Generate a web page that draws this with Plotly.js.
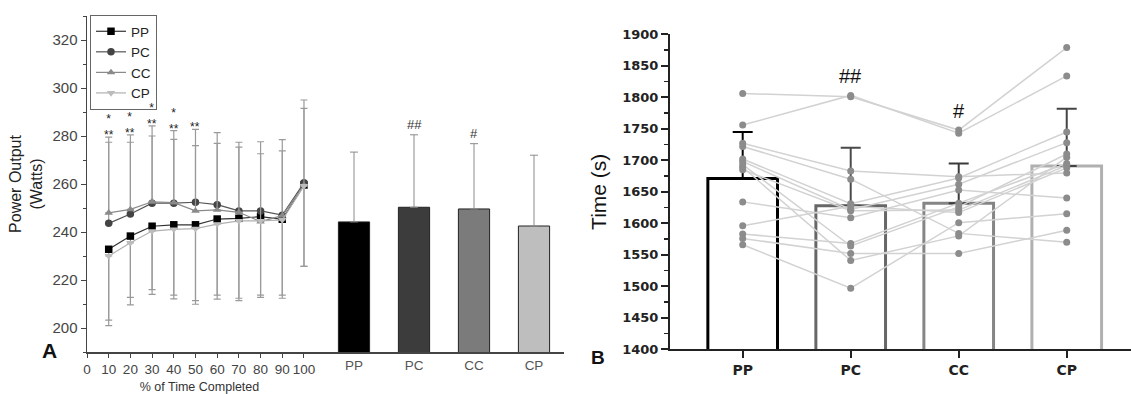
<!DOCTYPE html>
<html>
<head>
<meta charset="utf-8">
<script src="https://cdn.plot.ly/plotly-3.0.1.min.js"></script>
<style>html,body{margin:0;padding:0;background:#fff;}#chart{width:1131px;height:394px;}</style>
</head>
<body>
<div id="chart"></div>
<script>
// ---------- Panel A: power output over % of time ----------
const pctCompleted = [10, 20, 30, 40, 50, 60, 70, 80, 90, 100];
const pctTicks = [0, 10, 20, 30, 40, 50, 60, 70, 80, 90, 100];
const ppPower = [232.8, 238.3, 242.4, 243.0, 243.0, 245.4, 245.7, 246.4, 245.3, 259.6];
const pcPower = [243.6, 247.5, 252.0, 252.0, 252.4, 251.4, 248.8, 248.8, 247.0, 260.5];
const ccPower = [248.0, 249.4, 252.6, 252.2, 248.8, 249.2, 248.2, 244.3, 246.8, 259.5];
const cpPower = [230.0, 235.5, 240.4, 241.1, 241.4, 243.3, 244.6, 244.6, 245.0, 259.2];
const ppPowerSD = [29.5, 25.5, 26.4, 29.3, 31.6, 31.7, 33.3, 32.7, 31.6, 33.9];
const pcPowerSD = [35.9, 33.0, 32.2, 30.2, 30.4, 30.0, 28.6, 28.8, 31.5, 34.5];
const ccPowerSD = [29.4, 28.0, 27.4, 26.4, 27.2, 27.7, 27.2, 28.3, 27.0, 32.0];
const cpPowerSD = [29.0, 25.9, 26.4, 29.0, 31.5, 31.3, 33.2, 31.8, 32.6, 33.5];
const sigMarks = ['*<br>**', '*<br>**', '*<br>**', '*<br>**', '**', '', '', '', '', ''];

// Panel A bars: mean power per condition
const conditions = ['PP', 'PC', 'CC', 'CP'];
const powerMeans = [244.2, 250.3, 249.6, 242.5];
const powerMeanSD = [29.1, 30.2, 27.2, 29.5];
const powerSig = ['', '##', '#', ''];

// ---------- Panel B: time trial (s) ----------
const timeMeans = [1671, 1628, 1632, 1691];
const timeSD = [74, 92, 63, 91];
const timeSig = ['', '##', '#', ''];
// individual participants (same order in each array)
const ppTime = [1806, 1756, 1727, 1722, 1702, 1698, 1693, 1689, 1685, 1634, 1596, 1583, 1576, 1566];
const pcTime = [1801, 1803, 1683, 1670, 1631, 1622, 1564, 1541, 1620, 1609, 1627, 1568, 1552, 1497];
const ccTime = [1748, 1743, 1674, 1584, 1672, 1662, 1626, 1580, 1621, 1653, 1617, 1632, 1552, 1601];
const cpTime = [1879, 1834, 1680, 1570, 1745, 1728, 1710, 1705, 1692, 1640, 1688, 1695, 1589, 1615];

// ---------- styles ----------
const W = 1131, H = 394;
const px = v => v / W;
const py = v => (H - v) / H;

const seriesStyle = {
  PP: {color: '#000000', line: '#333333', symbol: 'square'},
  PC: {color: '#444444', line: '#555555', symbol: 'circle'},
  CC: {color: '#8a8a8a', line: '#8a8a8a', symbol: 'triangle-up'},
  CP: {color: '#bcbcbc', line: '#b0b0b0', symbol: 'triangle-down'}
};
const powerSeries = {PP: [ppPower, ppPowerSD, 'down'], PC: [pcPower, pcPowerSD, 'up'], CC: [ccPower, ccPowerSD, 'up'], CP: [cpPower, cpPowerSD, 'down']};
const zeros = n => Array(n).fill(0);

const data = [];

// left bars
data.push({
  type: 'bar', x: conditions, y: powerMeans, xaxis: 'x2', yaxis: 'y', width: 0.52,
  marker: {color: ['#000000', '#3c3c3c', '#7b7b7b', '#bebebe'], line: {color: '#222', width: 1}},
  error_y: {type: 'data', symmetric: false, array: powerMeanSD, arrayminus: zeros(4), color: '#8a8a8a', thickness: 1, width: 4},
  showlegend: false, hoverinfo: 'skip'
});

// left line series
conditions.forEach(c => {
  const [vals, sd, dir] = powerSeries[c];
  const st = seriesStyle[c];
  data.push({
    type: 'scatter', mode: 'lines+markers', name: c, x: pctCompleted, y: vals, xaxis: 'x', yaxis: 'y',
    line: {color: st.line, width: 1.2},
    marker: {color: st.color, symbol: st.symbol, size: 7.5},
    error_y: {type: 'data', symmetric: false,
      array: dir === 'up' ? sd : zeros(sd.length),
      arrayminus: dir === 'down' ? sd : zeros(sd.length),
      color: '#9a9a9a', thickness: 1.2, width: 3.5}
  });
});

// right bars (outlined)
const barLine = ['#000000', '#676767', '#858585', '#b0b0b0'];
const barErr = ['#000000', '#4a4a4a', '#3a3a3a', '#444444'];
conditions.forEach((c, i) => {
  data.push({
    type: 'bar', x: [c], y: [timeMeans[i]], xaxis: 'x3', yaxis: 'y2', width: 0.645,
    marker: {color: 'rgba(255,255,255,0)', line: {color: barLine[i], width: 3}},
    error_y: {type: 'data', symmetric: false, array: [timeSD[i]], arrayminus: [0], color: barErr[i], thickness: 2, width: 10},
    showlegend: false, hoverinfo: 'skip'
  });
});

// participant lines
const partArrays = [ppTime, pcTime, ccTime, cpTime];
const lx = [], ly = [];
ppTime.forEach((_, s) => {
  conditions.forEach((c, k) => { lx.push(c); ly.push(partArrays[k][s]); });
  lx.push(null); ly.push(null);
});
data.push({type: 'scatter', mode: 'lines', x: lx, y: ly, xaxis: 'x3', yaxis: 'y2',
  line: {color: '#d2d2d2', width: 1.5}, connectgaps: false, showlegend: false, hoverinfo: 'skip'});
const mx = [], my = [];
conditions.forEach((c, k) => partArrays[k].forEach(v => { mx.push(c); my.push(v); }));
data.push({type: 'scatter', mode: 'markers', x: mx, y: my, xaxis: 'x3', yaxis: 'y2',
  marker: {color: '#8c8c8c', size: 7}, showlegend: false, hoverinfo: 'skip'});

// ---------- annotations ----------
const ann = [];
ann.push({xref: 'paper', yref: 'paper', x: px(49), y: py(350), xanchor: 'center', yanchor: 'middle', text: 'A', showarrow: false,
  font: {family: 'Arial', size: 21, color: '#111', weight: 'bold'}});
ann.push({xref: 'paper', yref: 'paper', x: px(598), y: py(357), xanchor: 'center', yanchor: 'middle', text: 'B', showarrow: false,
  font: {family: 'Arial', size: 19, color: '#111', weight: 'bold'}});
pctCompleted.forEach((p, i) => {
  const top = Math.max(pcPower[i] + pcPowerSD[i], ccPower[i] + ccPowerSD[i]);
  if (sigMarks[i]) ann.push({x: p, y: top, xref: 'x', yref: 'y', text: sigMarks[i], showarrow: false,
    xanchor: 'center', yanchor: 'bottom', yshift: -7, font: {family: 'Arial', size: 12, color: '#222'}});
});
conditions.forEach((c, i) => {
  if (powerSig[i]) ann.push({x: c, y: powerMeans[i] + powerMeanSD[i], xref: 'x2', yref: 'y', text: powerSig[i],
    showarrow: false, yanchor: 'bottom', yshift: 1, font: {family: 'Arial', size: 13, color: '#333'}});
  if (timeSig[i]) ann.push({x: c, y: Math.max(...partArrays[i]), xref: 'x3', yref: 'y2', text: timeSig[i],
    showarrow: false, yanchor: 'middle', yshift: 19, font: {family: 'Arial', size: 20, color: '#111'}});
});

const layout = {
  width: W, height: H,
  margin: {l: 0, r: 0, t: 0, b: 0},
  paper_bgcolor: '#ffffff', plot_bgcolor: 'rgba(0,0,0,0)',
  barmode: 'overlay',
  showlegend: true,
  legend: {x: px(90), y: py(15), xanchor: 'left', yanchor: 'top', bgcolor: '#ffffff',
    bordercolor: '#666', borderwidth: 1, tracegroupgap: 0,
    font: {family: 'Arial', size: 13.5, color: '#222'}},
  xaxis: {domain: [px(87), px(312)], range: [0, 103.7], tickvals: pctTicks, ticktext: pctTicks.map(String),
    ticks: 'outside', ticklen: 4, tickcolor: '#444', showline: true, linecolor: '#444', linewidth: 1.5,
    showgrid: false, zeroline: false, tickfont: {family: 'Arial', size: 13.5, color: '#444'}, anchor: 'y',
    title: {text: '% of Time Completed', font: {family: 'Arial', size: 12.5, color: '#333'}, standoff: 7}},
  xaxis2: {domain: [px(312), px(564)], type: 'category', range: [-0.7, 3.5], showline: true,
    linecolor: '#444', linewidth: 1.5, ticks: '', showgrid: false, zeroline: false, anchor: 'y',
    tickfont: {family: 'Arial', size: 13.5, color: '#555'}},
  yaxis: {domain: [42 / H, 378 / H], range: [190, 330], dtick: 20, tick0: 0, ticks: 'outside', ticklen: 5,
    tickcolor: '#444', showline: true, linecolor: '#444', linewidth: 1.5, showgrid: false, zeroline: false,
    minor: {dtick: 10, ticks: 'outside', ticklen: 3, tickcolor: '#444', showgrid: false},
    tickfont: {family: 'Arial', size: 15, color: '#444'}, anchor: 'x',
    title: {text: 'Power Output<br>(Watts)', font: {family: 'Arial', size: 16, color: '#222'}, standoff: 6}},
  xaxis3: {domain: [px(670), 1], type: 'category', range: [-0.673, 3.595], showline: true,
    linecolor: '#222', linewidth: 2, ticks: 'outside', ticklen: 7, tickwidth: 2, tickcolor: '#222',
    showgrid: false, zeroline: false, anchor: 'y2',
    tickfont: {family: 'DejaVu Sans', size: 14, color: '#222', weight: 'bold'}},
  yaxis2: {domain: [(H - 349.3) / H, (H - 34.3) / H], range: [1400, 1900], dtick: 50, tick0: 0,
    ticks: 'outside', ticklen: 7, tickwidth: 2, tickcolor: '#222', showline: true, linecolor: '#222',
    linewidth: 2, showgrid: false, zeroline: false,
    minor: {dtick: 25, ticks: 'outside', ticklen: 4, tickwidth: 1.5, tickcolor: '#222', showgrid: false},
    tickfont: {family: 'DejaVu Sans', size: 13, color: '#222', weight: 'bold'}, anchor: 'x3',
    title: {text: 'Time (s)', font: {family: 'Arial', size: 21, color: '#111'}, standoff: 10}},
  annotations: ann
};

Plotly.newPlot('chart', data, layout, {displayModeBar: false, staticPlot: true});
</script>
</body>
</html>
